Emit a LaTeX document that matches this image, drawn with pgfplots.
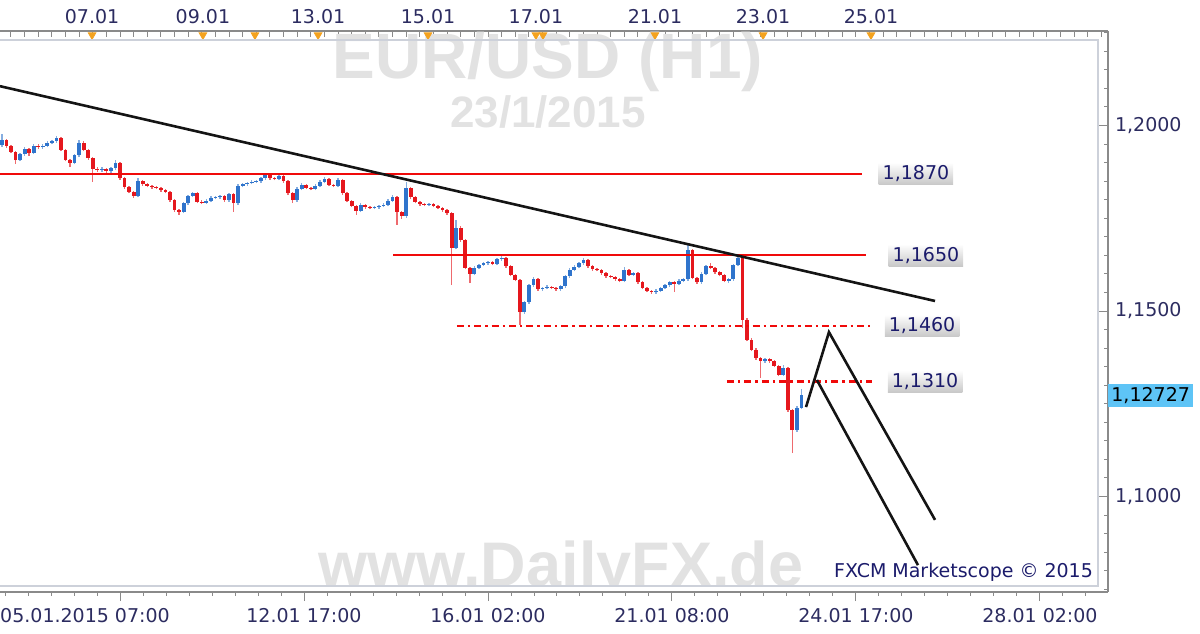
\documentclass[border=0pt]{standalone}
\usepackage{fontspec}
\setmainfont{DejaVu Sans}
\newfontfamily\wmfont{Liberation Sans}
\usepackage{pgfplots}
\usepackage{pgfplotstable}
\pgfplotsset{compat=1.18}

\definecolor{candred}{HTML}{E5171D}
\definecolor{wickred}{HTML}{EE6A6E}
\definecolor{candblue}{HTML}{2F74CC}
\definecolor{wickblue}{HTML}{86AEE0}
\definecolor{lvlred}{HTML}{F00A0A}
\definecolor{navy}{HTML}{1B1B6B}
\definecolor{ticktxt}{HTML}{2C2C60}
\definecolor{axisgrey}{HTML}{8A8A8A}
\definecolor{framegrey}{HTML}{CDD1DA}
\definecolor{wmgrey}{HTML}{E2E2E2}
\definecolor{tagblue}{HTML}{5EC4F6}
\definecolor{markorange}{HTML}{F4A21E}

% x = hours from 05.01.2015 07:00 (trading hours only), y = EUR/USD
\pgfplotstableread{
x o c h l
-52 1.1947 1.1961 1.1977 1.1942
-50 1.1961 1.1945 1.1964 1.1940
-48 1.1945 1.1929 1.1948 1.1925
-46 1.1929 1.1907 1.1932 1.1896
-44 1.1907 1.1923 1.1927 1.1903
-42 1.1923 1.1937 1.1941 1.1919
-40 1.1937 1.1926 1.1940 1.1918
-38 1.1926 1.1945 1.1949 1.1922
-36 1.1945 1.1942 1.1950 1.1938
-34 1.1942 1.1945 1.1949 1.1938
-32 1.1945 1.1953 1.1957 1.1941
-30 1.1953 1.1958 1.1962 1.1949
-28 1.1958 1.1966 1.1972 1.1954
-26 1.1966 1.1934 1.1969 1.1930
-24 1.1934 1.1907 1.1937 1.1903
-22 1.1907 1.1899 1.1911 1.1888
-20 1.1899 1.1920 1.1924 1.1895
-18 1.1920 1.1953 1.1961 1.1916
-16 1.1953 1.1934 1.1957 1.1930
-14 1.1934 1.1912 1.1938 1.1908
-12 1.1912 1.1883 1.1915 1.1848
-10 1.1883 1.1880 1.1887 1.1876
-8 1.1880 1.1883 1.1887 1.1876
-6 1.1883 1.1877 1.1886 1.1873
-4 1.1877 1.1885 1.1889 1.1873
-2 1.1885 1.1899 1.1907 1.1881
0 1.1899 1.1858 1.1902 1.1854
2 1.1858 1.1834 1.1861 1.1830
4 1.1834 1.1821 1.1837 1.1817
6 1.1821 1.1810 1.1824 1.1805
8 1.1810 1.1850 1.1858 1.1806
10 1.1850 1.1842 1.1853 1.1838
12 1.1842 1.1837 1.1845 1.1833
14 1.1837 1.1834 1.1840 1.1830
16 1.1834 1.1832 1.1837 1.1828
18 1.1832 1.1826 1.1835 1.1822
20 1.1826 1.1821 1.1829 1.1817
22 1.1821 1.1799 1.1824 1.1795
24 1.1799 1.1772 1.1802 1.1768
26 1.1772 1.1767 1.1776 1.1759
28 1.1767 1.1791 1.1795 1.1763
30 1.1791 1.1810 1.1814 1.1787
32 1.1810 1.1818 1.1822 1.1806
34 1.1818 1.1794 1.1821 1.1790
36 1.1794 1.1792 1.1798 1.1788
38 1.1792 1.1797 1.1801 1.1788
40 1.1797 1.1805 1.1809 1.1793
42 1.1805 1.1807 1.1811 1.1801
44 1.1807 1.1810 1.1814 1.1803
46 1.1810 1.1799 1.1813 1.1795
48 1.1799 1.1815 1.1819 1.1795
50 1.1815 1.1791 1.1819 1.1767
52 1.1791 1.1837 1.1841 1.1787
54 1.1837 1.1842 1.1846 1.1833
56 1.1842 1.1845 1.1849 1.1838
58 1.1845 1.1848 1.1852 1.1841
60 1.1848 1.1850 1.1854 1.1844
62 1.1850 1.1858 1.1862 1.1846
64 1.1858 1.1869 1.1872 1.1854
66 1.1869 1.1858 1.1872 1.1854
68 1.1858 1.1856 1.1861 1.1852
70 1.1856 1.1864 1.1872 1.1852
72 1.1864 1.1850 1.1867 1.1846
74 1.1850 1.1818 1.1853 1.1814
76 1.1818 1.1799 1.1821 1.1791
78 1.1799 1.1829 1.1833 1.1795
80 1.1829 1.1840 1.1844 1.1825
82 1.1840 1.1832 1.1843 1.1828
84 1.1832 1.1829 1.1835 1.1825
86 1.1829 1.1837 1.1841 1.1825
88 1.1837 1.1848 1.1852 1.1833
90 1.1848 1.1856 1.1861 1.1844
92 1.1856 1.1840 1.1859 1.1836
94 1.1840 1.1837 1.1843 1.1833
96 1.1837 1.1853 1.1858 1.1833
98 1.1853 1.1818 1.1856 1.1814
100 1.1818 1.1797 1.1821 1.1793
102 1.1797 1.1783 1.1800 1.1779
104 1.1783 1.1770 1.1786 1.1759
106 1.1770 1.1786 1.1790 1.1766
108 1.1786 1.1780 1.1789 1.1776
110 1.1780 1.1778 1.1783 1.1774
112 1.1778 1.1780 1.1784 1.1774
114 1.1780 1.1783 1.1787 1.1776
116 1.1783 1.1786 1.1790 1.1779
118 1.1786 1.1797 1.1801 1.1782
120 1.1797 1.1807 1.1813 1.1793
122 1.1807 1.1767 1.1810 1.1732
124 1.1767 1.1756 1.1770 1.1748
126 1.1756 1.1832 1.1848 1.1752
128 1.1832 1.1807 1.1835 1.1803
130 1.1807 1.1794 1.1810 1.1790
132 1.1794 1.1788 1.1797 1.1784
134 1.1788 1.1786 1.1791 1.1782
136 1.1786 1.1788 1.1792 1.1782
138 1.1788 1.1783 1.1791 1.1779
140 1.1783 1.1778 1.1786 1.1774
142 1.1778 1.1772 1.1781 1.1768
144 1.1772 1.1764 1.1775 1.1760
146 1.1764 1.1670 1.1767 1.1570
148 1.1670 1.1724 1.1745 1.1666
150 1.1724 1.1691 1.1728 1.1687
152 1.1691 1.1616 1.1694 1.1612
154 1.1616 1.1600 1.1619 1.1575
156 1.1600 1.1616 1.1620 1.1596
158 1.1616 1.1624 1.1628 1.1612
160 1.1624 1.1629 1.1633 1.1620
162 1.1629 1.1632 1.1636 1.1625
164 1.1632 1.1627 1.1635 1.1623
166 1.1627 1.1640 1.1644 1.1623
168 1.1640 1.1643 1.1648 1.1636
170 1.1643 1.1621 1.1646 1.1617
172 1.1621 1.1597 1.1624 1.1593
174 1.1597 1.1584 1.1600 1.1580
176 1.1584 1.1497 1.1587 1.1462
178 1.1497 1.1524 1.1528 1.1493
180 1.1524 1.1570 1.1574 1.1520
182 1.1570 1.1586 1.1592 1.1566
184 1.1586 1.1559 1.1589 1.1555
186 1.1559 1.1562 1.1566 1.1555
188 1.1562 1.1565 1.1569 1.1558
190 1.1565 1.1562 1.1568 1.1558
192 1.1562 1.1559 1.1565 1.1555
194 1.1559 1.1567 1.1571 1.1555
196 1.1567 1.1594 1.1598 1.1563
198 1.1594 1.1611 1.1615 1.1590
200 1.1611 1.1619 1.1623 1.1607
202 1.1619 1.1629 1.1633 1.1615
204 1.1629 1.1637 1.1643 1.1625
206 1.1637 1.1621 1.1640 1.1617
208 1.1621 1.1613 1.1624 1.1609
210 1.1613 1.1611 1.1616 1.1607
212 1.1611 1.1602 1.1614 1.1598
214 1.1602 1.1594 1.1605 1.1590
216 1.1594 1.1592 1.1597 1.1588
218 1.1592 1.1586 1.1595 1.1582
220 1.1586 1.1581 1.1589 1.1577
222 1.1581 1.1611 1.1619 1.1577
224 1.1611 1.1597 1.1614 1.1593
226 1.1597 1.1602 1.1606 1.1593
228 1.1602 1.1578 1.1605 1.1574
230 1.1578 1.1562 1.1581 1.1558
232 1.1562 1.1554 1.1565 1.1550
234 1.1554 1.1551 1.1557 1.1547
236 1.1551 1.1554 1.1558 1.1547
238 1.1554 1.1562 1.1566 1.1550
240 1.1562 1.1570 1.1574 1.1558
242 1.1570 1.1578 1.1582 1.1566
244 1.1578 1.1573 1.1581 1.1551
246 1.1573 1.1581 1.1585 1.1569
248 1.1581 1.1586 1.1590 1.1577
250 1.1586 1.1664 1.1678 1.1582
252 1.1664 1.1589 1.1667 1.1585
254 1.1589 1.1578 1.1592 1.1574
256 1.1578 1.1600 1.1604 1.1574
258 1.1600 1.1621 1.1625 1.1596
260 1.1621 1.1616 1.1629 1.1612
262 1.1616 1.1605 1.1619 1.1601
264 1.1605 1.1597 1.1608 1.1593
266 1.1597 1.1581 1.1600 1.1577
268 1.1581 1.1586 1.1590 1.1575
270 1.1586 1.1624 1.1628 1.1582
272 1.1624 1.1643 1.1651 1.1620
274 1.1643 1.1476 1.1646 1.1454
276 1.1476 1.1422 1.1480 1.1418
278 1.1422 1.1395 1.1426 1.1391
280 1.1395 1.1373 1.1399 1.1369
282 1.1373 1.1365 1.1376 1.1319
284 1.1365 1.1370 1.1374 1.1361
286 1.1370 1.1365 1.1373 1.1361
288 1.1365 1.1352 1.1368 1.1348
290 1.1352 1.1328 1.1355 1.1324
292 1.1328 1.1346 1.1354 1.1324
294 1.1346 1.1233 1.1349 1.1229
296 1.1233 1.1179 1.1236 1.1117
298 1.1179 1.1239 1.1243 1.1175
300 1.1239 1.1273 1.1290 1.1235
}\candles

\pgfplotsset{
  fxaxis/.style={
    scale only axis, width=554pt, height=280.5pt,
    at={(0,0)}, anchor=south west,
    xmin=-52.83, xmax=434.94, ymin=1.074259, ymax=1.225472,
    clip=false,
    tick label style={font=\fontsize{9.5}{11}\selectfont, text=ticktxt},
    axis line style={draw=axisgrey, line width=0.6pt},
    tick style={draw=axisgrey, line width=0.5pt},
  },
  wick/.style={draw=none, mark=none,
    error bars/y dir=plus, error bars/y explicit, error bars/error mark=none,
    error bars/error bar style={draw=#1, line width=0.7pt}},
  body/.style={draw=none, mark=none,
    error bars/y dir=plus, error bars/y explicit, error bars/error mark=none,
    error bars/error bar style={draw=#1, line width=1.9pt, line cap=butt}},
  trend/.style={draw=black!92, line width=1.3pt, mark=none},
  level/.style={draw=lvlred, line width=1.1pt, mark=none},
  dlevel/.style={draw=lvlred, line width=1.1pt, mark=none,
    dash pattern=on 3.5pt off 2pt on 1.2pt off 2pt},
}
\tikzset{
  tag/.style={font=\fontsize{9.5}{11}\selectfont, text=navy, inner xsep=2pt, inner ysep=1.5pt,
    top color=white, bottom color=black!22, draw=none},
}

\begin{document}
\begin{tikzpicture}
\useasboundingbox (0,-20.5pt) rectangle (600pt,296pt);

% top date ruler + watermarks (behind the data)
\begin{axis}[fxaxis,
  axis x line*=top, axis y line=none,
  xtick={-12.3,36.5,87.2,135.6,183.1,235.5,283.1,330.6},
  xticklabels={07.01,09.01,13.01,15.01,17.01,21.01,23.01,25.01},
  minor xtick={-48,-42,...,432},
  tick align=inside, major tick length=0pt, minor tick length=2.8pt,
]
\node[font=\wmfont\bfseries\fontsize{32}{32}\selectfont, text=wmgrey] at (axis cs:188.4,1.2171) {EUR/USD (H1)};
\node[font=\wmfont\bfseries\fontsize{22}{22}\selectfont, text=wmgrey] at (axis cs:188.4,1.2036) {23/1/2015};
\begin{scope}
  \clip (axis cs:-52.83,1.075876) rectangle (axis cs:430.5,1.12);
  \node[anchor=base, font=\wmfont\bfseries\fontsize{31.5}{31.5}\selectfont, text=wmgrey, inner sep=0pt]
    at (axis cs:194.1,1.0757) {www.DailyFX.de};
\end{scope}
\addplot[only marks, mark=triangle*, mark size=2.2pt,
  mark options={rotate=180, fill=markorange, draw=markorange}] coordinates {
  (-12.3,1.2244) (36.5,1.2244) (59.4,1.2244) (87.2,1.2244) (135.6,1.2244)
  (183.1,1.2244) (186.2,1.2244) (235.5,1.2244) (283.1,1.2244) (330.6,1.2244)
};
\end{axis}

% price chart, bottom time axis, right price axis
\begin{axis}[fxaxis,
  axis x line*=bottom, axis y line*=right,
  xtick={0,81,162,243,324,405},
  xticklabels={\hspace*{-35pt}05.01.2015 07:00,12.01 17:00,16.01 02:00,21.01 08:00,24.01 17:00,28.01 02:00},
  minor xtick={-50.625,-40.5,...,430},
  ytick={1.10,1.15,1.20},
  yticklabels={{1,1000},{1,1500},{1,2000}},
  minor ytick={1.075,1.080,...,1.2251},
  xtick align=outside, ytick align=inside,
  major tick length=4.5pt, minor tick length=1.8pt,
]
\draw[framegrey, line width=0.8pt] (axis cs:-52.83,1.223046) -- (axis cs:430.5,1.223046)
  -- (axis cs:430.5,1.075876) -- (axis cs:-52.83,1.075876);

% wicks
\addplot[wick=wickblue, restrict expr to domain={\thisrow{c}-\thisrow{o}}{0:1}]
  table[x=x, y=l, y error expr=\thisrow{h}-\thisrow{l}] {\candles};
\addplot[wick=wickred, restrict expr to domain={\thisrow{c}-\thisrow{o}}{-1:-0.00001}]
  table[x=x, y=l, y error expr=\thisrow{h}-\thisrow{l}] {\candles};
% bodies
\addplot[body=candblue, restrict expr to domain={\thisrow{c}-\thisrow{o}}{0:1}]
  table[x=x, y=o, y error expr=\thisrow{c}-\thisrow{o}] {\candles};
\addplot[body=candred, restrict expr to domain={\thisrow{c}-\thisrow{o}}{-1:-0.00001}]
  table[x=x, y=c, y error expr=\thisrow{o}-\thisrow{c}] {\candles};

% support / resistance and trend lines
\addplot[level] coordinates {(-52.83,1.1870) (326.6,1.1870)};
\addplot[level] coordinates {(120.2,1.1650) (328.4,1.1650)};
\addplot[dlevel] coordinates {(148.3,1.1460) (331.0,1.1460)};
\addplot[dlevel] coordinates {(267.2,1.1310) (331.0,1.1310)};
\addplot[trend] coordinates {(-52.83,1.2106) (358.8,1.1527)};
\addplot[trend] coordinates {(302.0,1.1241) (312.1,1.1443) (358.8,1.0937)};
\addplot[trend] coordinates {(306.8,1.1314) (351.3,1.0815)};

\node[tag] at (axis cs:350.4,1.1870) {1,1870};
\node[tag] at (axis cs:354.8,1.1650) {1,1650};
\node[tag] at (axis cs:353.1,1.1460) {1,1460};
\node[tag] at (axis cs:354.4,1.1310) {1,1310};

\node[anchor=west, fill=tagblue, text=black, font=\fontsize{9.5}{11}\selectfont,
  inner xsep=1.5pt, inner ysep=0pt, minimum height=11.5pt] at (axis cs:434.94,1.12727) {1,12727};
\node[anchor=south east, font=\fontsize{9.5}{11}\selectfont, text=navy, inner sep=1.5pt]
  at (axis cs:429.8,1.0762) {FXCM Marketscope © 2015};
\end{axis}
\end{tikzpicture}
\end{document}
